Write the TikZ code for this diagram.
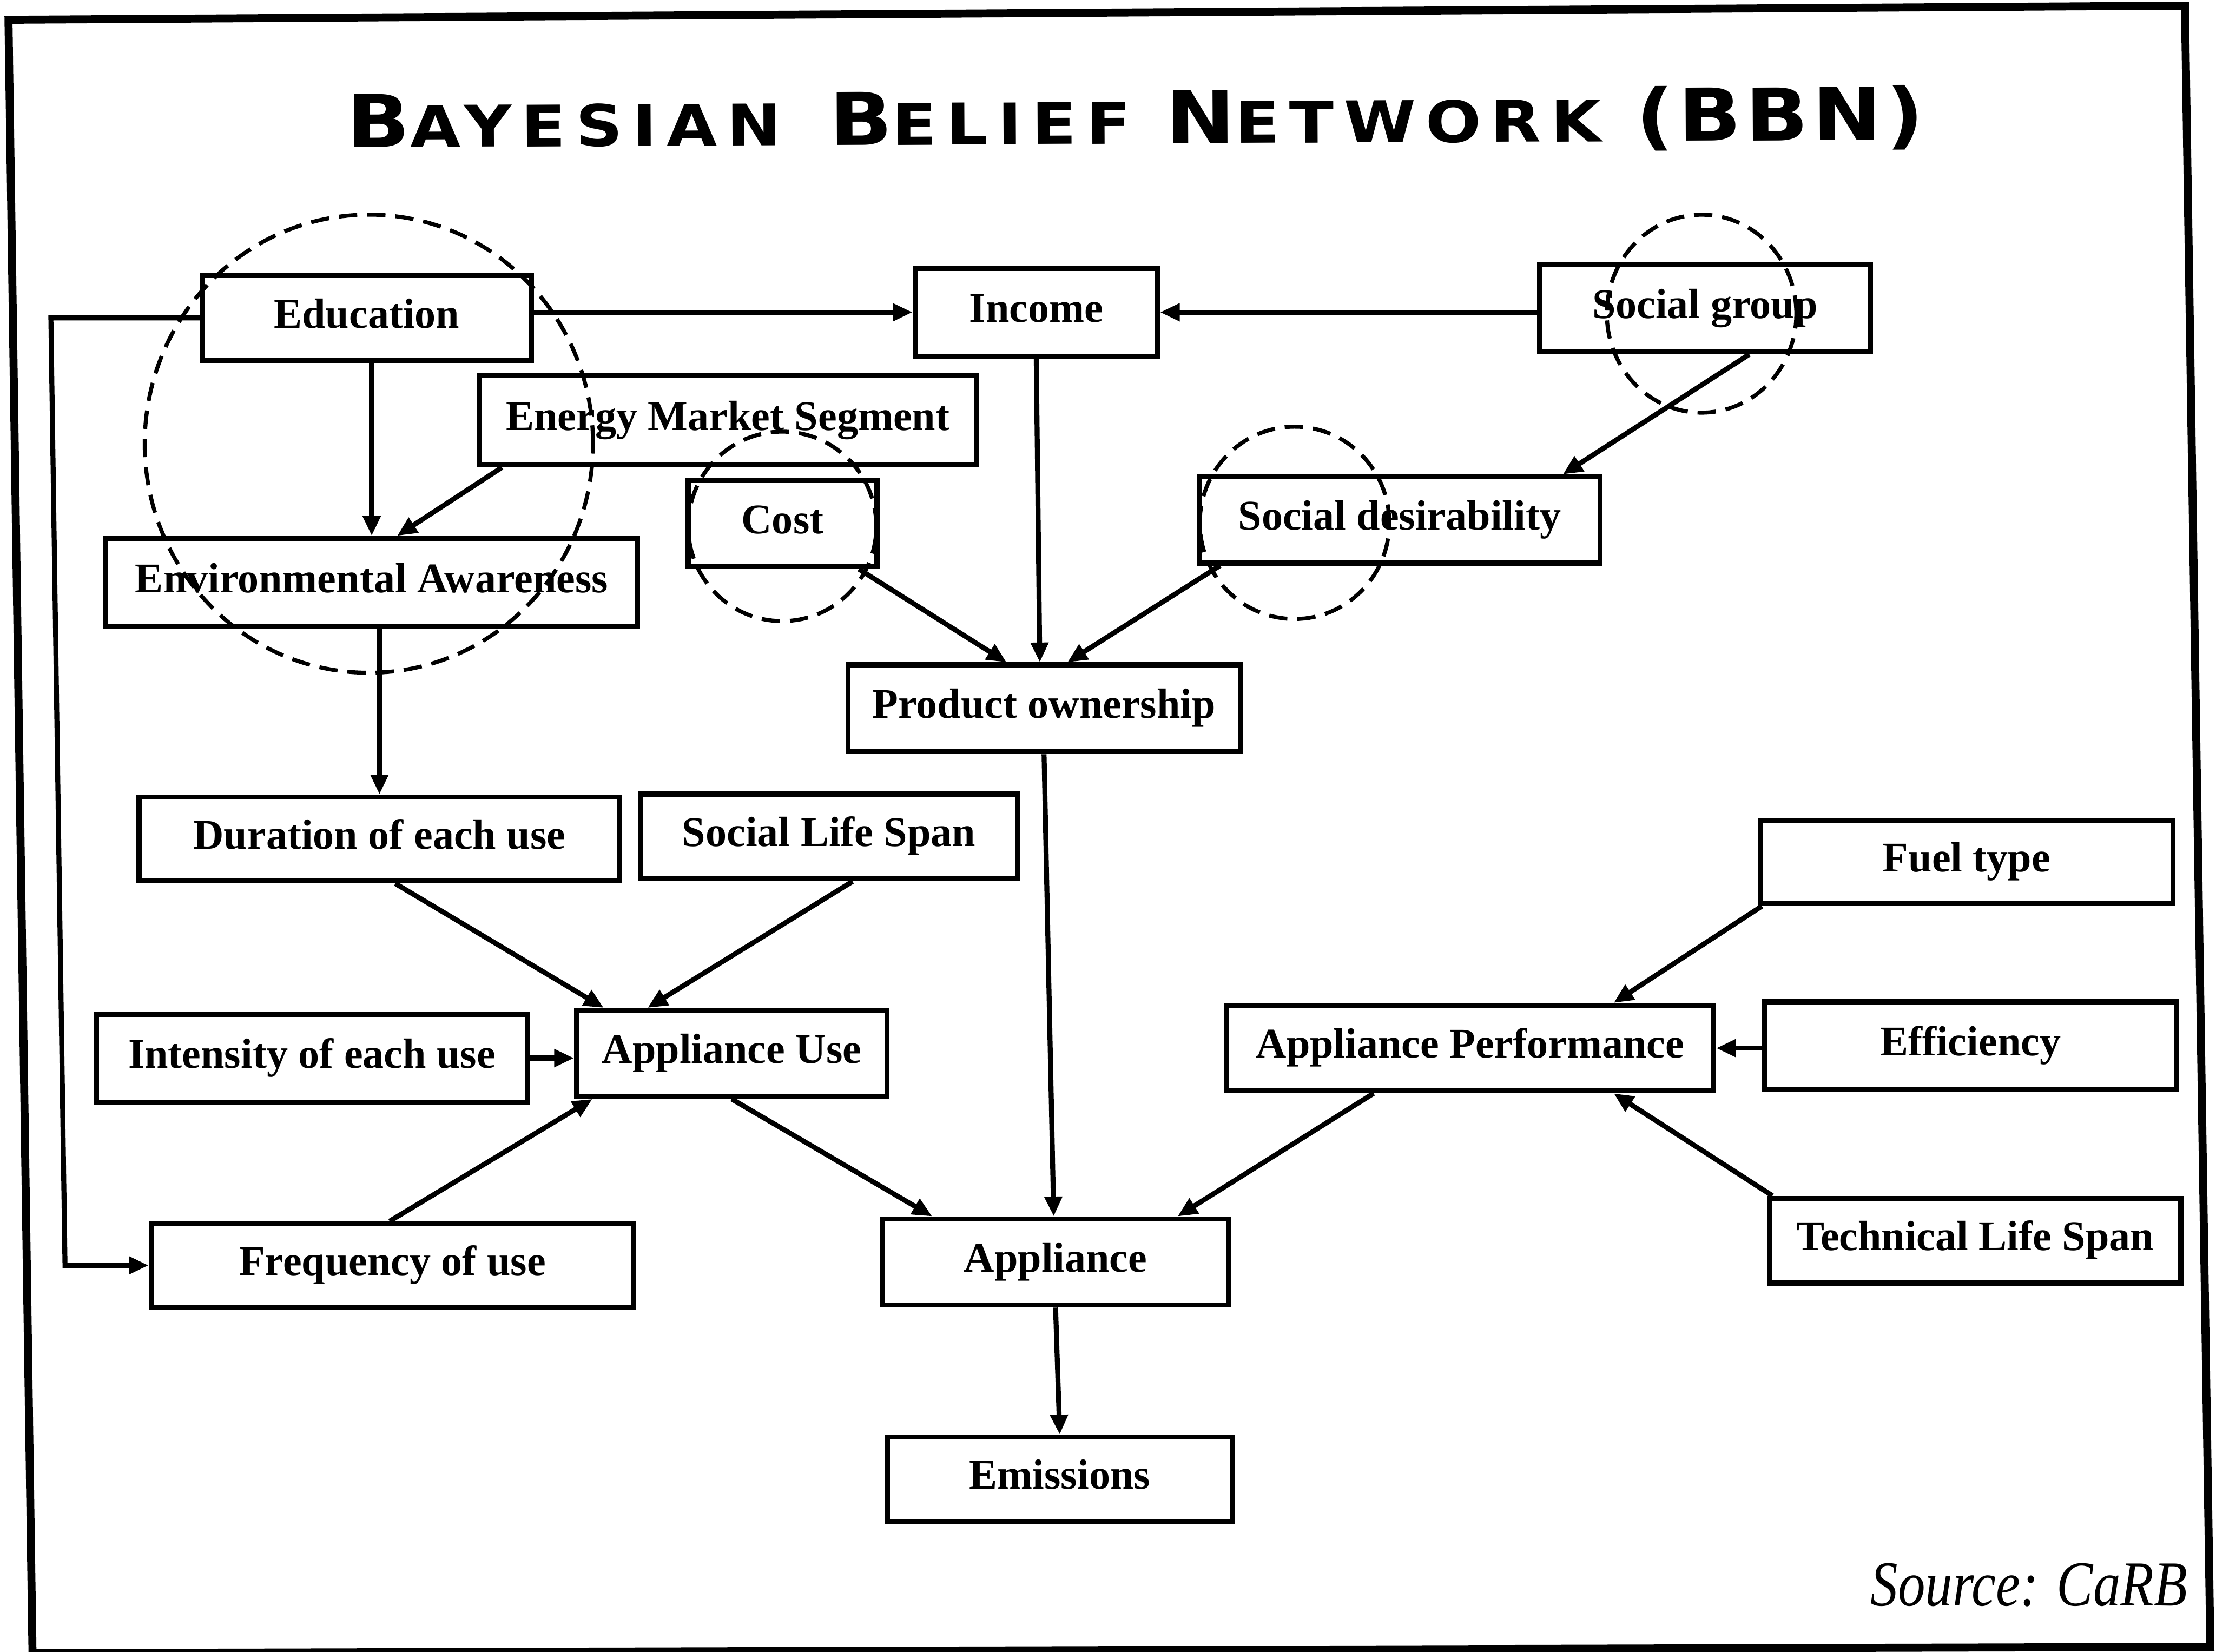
\documentclass[tikz,border=0pt]{standalone}
\usepackage{fontspec}
\setmainfont{Liberation Serif}
\newfontfamily\titlefont{DejaVu Sans}
\usetikzlibrary{arrows.meta,calc}
\begin{document}
\begin{tikzpicture}[x=0.01cm,y=-0.01cm,
  box/.style={draw,line width=1pt,inner sep=0pt,text height=0.2cm,text depth=0.06cm,
              font=\fontsize{8.5}{10}\selectfont\bfseries},
  arr/.style={line width=1pt,-{Triangle[length=0.14cm,width=0.12cm]}},
  dcirc/.style={line width=0.8pt,dash pattern=on 0.13cm off 0.07cm},
  framestyle/.style={line width=1.6pt}]
\useasboundingbox (0,0) rectangle (1568,1169);

% outer frame
\draw[framestyle] (6,14) -- (1546,4) -- (1564,1165.5) -- (23,1170) -- cycle;

% title
\node[anchor=base west, inner sep=0pt, rotate=0.28] (title) at (245,104.5)
  {\resizebox{11.15cm}{0.39cm}{\titlefont\bfseries\addfontfeature{LetterSpace=15}%
   {\fontsize{38}{40}\selectfont B}{\fontsize{30}{32}\selectfont AYESIAN}\hspace{22pt}%
   {\fontsize{38}{40}\selectfont B}{\fontsize{30}{32}\selectfont ELIEF}\hspace{16pt}%
   {\fontsize{38}{40}\selectfont N}{\fontsize{30}{32}\selectfont ETWORK}\hspace{16pt}%
   {\fontsize{38}{40}\selectfont\addfontfeature{LetterSpace=5}(BBN)}}};

% nodes
\node[box, minimum width=2.33cm, minimum height=0.60cm] (edu) at (259.5,225) {Education};
\node[box, minimum width=1.715cm, minimum height=0.62cm] (inc) at (733.25,221) {Income};
\node[box, minimum width=2.34cm, minimum height=0.615cm] (sg) at (1206.5,218.25) {Social group};
\node[box, minimum width=3.52cm, minimum height=0.63cm] (ems) at (515,297.5) {Energy Market Segment};
\node[box, minimum width=1.335cm, minimum height=0.61cm] (cost) at (553.75,370.5) {Cost};
\node[box, minimum width=2.834cm, minimum height=0.61cm] (sd) at (990.3,368) {Social desirability};
\node[box, minimum width=3.76cm, minimum height=0.625cm] (ea) at (263,412.25) {Environmental Awareness};
\node[box, minimum width=2.775cm, minimum height=0.615cm] (po) at (738.75,501.25) {Product ownership};
\node[box, minimum width=3.40cm, minimum height=0.595cm] (dur) at (268.5,593.75) {Duration of each use};
\node[box, minimum width=2.67cm, minimum height=0.60cm] (sls) at (586.5,592) {Social Life Span};
\node[box, minimum width=2.92cm, minimum height=0.59cm] (fuel) at (1391.5,610) {Fuel type};
\node[box, minimum width=3.046cm, minimum height=0.62cm] (int) at (220.7,748.8) {Intensity of each use};
\node[box, minimum width=2.195cm, minimum height=0.61cm] (au) at (517.75,745.5) {Appliance Use};
\node[box, minimum width=3.445cm, minimum height=0.605cm] (ap) at (1040.25,741.75) {Appliance Performance};
\node[box, minimum width=2.915cm, minimum height=0.62cm] (eff) at (1394.25,740) {Efficiency};
\node[box, minimum width=2.91cm, minimum height=0.60cm] (tls) at (1397.5,878) {Technical Life Span};
\node[box, minimum width=3.414cm, minimum height=0.59cm] (freq) at (277.7,895.5) {Frequency of use};
\node[box, minimum width=2.45cm, minimum height=0.61cm] (app) at (746.9,893.1) {Appliance};
\node[box, minimum width=2.437cm, minimum height=0.595cm] (emi) at (749.85,1046.75) {Emissions};

% source
\node[anchor=base west, inner sep=0pt] (src) at (1323,1136.5)
  {\resizebox{2.24cm}{0.30cm}{\itshape Source: CaRB}};

% dashed circles
\draw[dcirc] (261,314) ellipse [x radius=1.585cm, y radius=1.62cm];
\draw[dcirc] (1204,222) ellipse [x radius=0.67cm, y radius=0.70cm];
\draw[dcirc] (553.5,372.5) ellipse [x radius=0.665cm, y radius=0.67cm];
\draw[dcirc] (916,370) ellipse [x radius=0.67cm, y radius=0.68cm];

% connectors
\coordinate (lp1) at (36,225);
\coordinate (lp2) at (46,895.5);
\draw[arr] (edu.east |- inc.west) -- (inc.west);
\draw[arr] (sg.west |- inc.east) -- (inc.east);
\draw[arr] (edu.west) -- (lp1) -- (lp2) -- (freq.west);
\draw[arr] (ea.north |- edu.south) -- (ea.north);
\draw[arr] ([xshift=0.18cm]ems.south west) -- ([xshift=0.18cm]ea.north);
\draw[arr] (dur.north |- ea.south) -- (dur.north);
\draw[arr] (inc.south) -- ([xshift=-0.03cm]po.north);
\draw[arr] ([xshift=1.5cm]sg.south west) -- ([xshift=-0.28cm]sd.north east);
\draw[arr] ([xshift=-0.145cm]cost.south east) -- ([xshift=1.14cm]po.north west);
\draw[arr] ([xshift=0.165cm]sd.south west) -- ([xshift=1.57cm]po.north west);
\draw[arr] (po.south) -- ([xshift=-0.013cm]app.north);
\draw[arr] ([xshift=1.83cm]dur.south west) -- ([xshift=0.21cm]au.north west);
\draw[arr] ([xshift=1.52cm]sls.south west) -- ([xshift=0.52cm]au.north west);
\draw[arr] (int.east) -- (int.east -| au.west);
\draw[arr] ([xshift=-0.02cm]freq.north) -- ([xshift=0.13cm]au.south west);
\draw[arr] (au.south) -- ([xshift=0.37cm]app.north west);
\draw[arr] ([xshift=1.057cm]ap.south west) -- ([xshift=-0.38cm]app.north east);
\draw[arr] ([xshift=0.03cm]fuel.south west) -- ([xshift=-0.725cm]ap.north east);
\draw[arr] (eff.west |- ap.east) -- (ap.east);
\draw[arr] ([xshift=0.04cm]tls.north west) -- ([xshift=-0.725cm]ap.south east);
\draw[arr] (app.south) -- (emi.north);
\end{tikzpicture}
\end{document}
